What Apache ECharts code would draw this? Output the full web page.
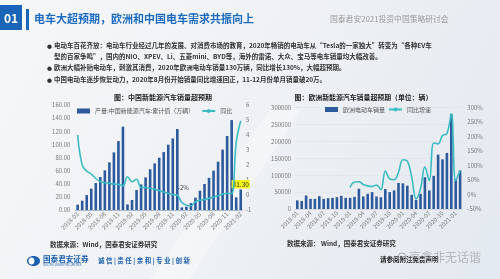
<!DOCTYPE html>
<html><head><meta charset="utf-8">
<script src="https://cdn.jsdelivr.net/npm/echarts@6/dist/echarts.min.js"></script>
<style>html,body{margin:0;padding:0;width:500px;height:279px;overflow:hidden;background:#eef1f5}#c{width:500px;height:279px}</style>
</head><body><div id="c"></div>
<script>
// ---------- data ----------
const cnCategories = ['2018-02','2018-03','2018-04','2018-05','2018-06','2018-07','2018-08','2018-09','2018-10','2018-11','2018-12',
 '2019-01','2019-02','2019-03','2019-04','2019-05','2019-06','2019-07','2019-08','2019-09','2019-10','2019-11','2019-12',
 '2020-01','2020-02','2020-03','2020-04','2020-05','2020-06','2020-07','2020-08','2020-09','2020-10','2020-11','2020-12',
 '2021-01','2021-02'];
const cnCumulative = [8.1,14.2,22.8,32.5,41.0,50.3,60.4,72.6,87.8,105.0,127.0,
 8.6,15.2,30.5,39.0,49.7,62.0,71.0,79.7,88.3,99.5,109.0,123.4,
 4.0,5.0,10.5,18.8,29.4,39.6,49.0,60.0,73.6,92.0,112.7,137.0,
 19.3,31.3];
const cnYoY = [4.0,2.0,1.6,1.4,1.1,0.9,0.82,0.78,0.73,0.7,0.62,
 1.22,0.88,1.05,0.5,0.5,0.45,0.38,0.3,0.2,0.1,0.03,-0.02,
 -0.5,-0.68,-0.72,-0.45,-0.35,-0.3,-0.22,-0.13,-0.05,0.05,0.12,0.1,
 3.5,4.95];
const cnLeftTicks = {min:0, max:160, step:20};
const cnRightTicks = {min:-1, max:6, step:1};

const euCategories = ['2018-01','2018-02','2018-03','2018-04','2018-05','2018-06','2018-07','2018-08','2018-09','2018-10','2018-11','2018-12',
 '2019-01','2019-02','2019-03','2019-04','2019-05','2019-06','2019-07','2019-08','2019-09','2019-10','2019-11','2019-12',
 '2020-01','2020-02','2020-03','2020-04','2020-05','2020-06','2020-07','2020-08','2020-09','2020-10','2020-11','2020-12',
 '2021-01','2021-02'];
const euSales = [25500,23500,40000,30000,30000,38000,30000,32000,33000,35000,39000,33000,
 33000,36000,60000,37000,45000,50000,37000,35000,59000,50000,55000,77000,
 76000,69000,42000,27000,45000,94000,55000,98000,161000,147000,166000,281000,
 89000,114000];
const euYoY = [null,null,null,null,null,null,null,null,null,null,null,null,
 25,43,44,35,30,28,33,17,81,54,51,77,
 120,115,60,-15,20,95,48,178,175,204,210,279,
 48,83];
const euLeftTicks = {min:0, max:300000, step:50000};
const euRightTicks = {min:-50, max:300, step:50};

const cnBarName = '产量:中国新能源汽车:累计值（万辆）';
const cnLineName = '同比';
const euBarName = '欧洲电动车销量';
const euLineName = '同比增速';

// ---------- chart ----------
const FONT = '"Noto Sans CJK SC", "Noto Sans", sans-serif';
const BAR = '#2c5a9c', LINE = '#3bbcc3', AX = '#7a7a7a';
const chart = echarts.init(document.getElementById('c'), null, {renderer:'canvas'});

function txt(x, y, text, size, color, opt) {
  opt = opt || {};
  return {type:'text', x:x, y:y, silent:true, z:opt.z||10,
    style:{text:text, fill:color, font:(opt.bold?'bold ':'')+size+'px '+FONT,
      align:opt.align||'left', verticalAlign:'middle', opacity: opt.opacity==null?1:opt.opacity}};
}

const lastIdx = cnCumulative.length - 1;
const cnBarData = cnCumulative.map((v,i)=> i===lastIdx ? {value:v, label:{show:true, position:'top', distance:1,
   formatter:(p)=>p.value.toFixed(2), fontSize:6.5, color:'#333', backgroundColor:'#f6f51c', padding:[1,1]}} : v);
const cnLineData = cnYoY.map((v,i)=> i===22 ? {value:v, symbol:'circle', symbolSize:1,
   label:{show:true, formatter:'-2%', position:'top', offset:[6,1], fontSize:6, color:'#444', fontFamily:FONT}} : v);

const axisLabelBase = {fontSize:6, color:AX, fontFamily:FONT};

chart.setOption({
  backgroundColor: {type:'linear', x:0, y:0, x2:1, y2:1, colorStops:[
    {offset:0, color:'#f6f7f9'}, {offset:0.55, color:'#edf0f4'}, {offset:1, color:'#e3e9f0'}]},
  animation:false,
  textStyle:{fontFamily:FONT},
  grid:[
    {left:75.4, top:105, width:167.6, height:105},
    {left:295.1, top:107.7, width:167.2, height:101.3}
  ],
  legend:[
    {left:77, top:108, itemWidth:13, itemHeight:5, itemGap:7, padding:0,
     textStyle:{fontSize:6, color:'#555', fontFamily:FONT},
     data:[{name:cnBarName, icon:'rect'}, {name:cnLineName}]},
    {left:325, top:106.5, itemWidth:13, itemHeight:5, itemGap:3, padding:0,
     textStyle:{fontSize:6, color:'#555', fontFamily:FONT},
     data:[{name:euBarName, icon:'rect'}, {name:euLineName}]}
  ],
  xAxis:[
    {type:'category', gridIndex:0, data:cnCategories, boundaryGap:true,
     axisTick:{show:false}, axisLine:{lineStyle:{color:'#9fb2c8', type:'dotted', width:1}},
     axisLabel:Object.assign({interval:2, rotate:45, margin:3}, axisLabelBase)},
    {type:'category', gridIndex:1, data:euCategories, boundaryGap:true,
     axisTick:{show:false}, axisLine:{lineStyle:{color:'#d4dae2', width:1}},
     axisLabel:Object.assign({interval:2, rotate:45, margin:3}, axisLabelBase)}
  ],
  yAxis:[
    {type:'value', gridIndex:0, min:cnLeftTicks.min, max:cnLeftTicks.max, interval:cnLeftTicks.step,
     splitLine:{show:false}, axisLine:{show:false}, axisTick:{show:false},
     axisLabel:Object.assign({margin:5, formatter:(v)=>v.toFixed(2)}, axisLabelBase)},
    {type:'value', gridIndex:0, position:'right', min:cnRightTicks.min, max:cnRightTicks.max, interval:cnRightTicks.step,
     splitLine:{show:false}, axisLine:{show:false}, axisTick:{show:false},
     axisLabel:Object.assign({margin:3}, axisLabelBase)},
    {type:'value', gridIndex:1, min:euLeftTicks.min, max:euLeftTicks.max, interval:euLeftTicks.step,
     splitLine:{lineStyle:{color:'#dfe4ea', width:0.8}}, axisLine:{show:false}, axisTick:{show:false},
     axisLabel:Object.assign({margin:4, formatter:(v)=>String(v)}, axisLabelBase)},
    {type:'value', gridIndex:1, position:'right', min:euRightTicks.min, max:euRightTicks.max, interval:euRightTicks.step,
     splitLine:{show:false}, axisLine:{show:false}, axisTick:{show:false},
     axisLabel:Object.assign({margin:5, formatter:'{value}%'}, axisLabelBase)}
  ],
  series:[
    {name:cnBarName, type:'bar', xAxisIndex:0, yAxisIndex:0, data:cnBarData, barWidth:2.6,
     itemStyle:{color:BAR}},
    {name:cnLineName, type:'line', xAxisIndex:0, yAxisIndex:1, data:cnLineData, smooth:0.4,
     symbol:'none', showSymbol:true, showAllSymbol:true, itemStyle:{color:LINE},
     lineStyle:{color:LINE, width:1.6}, z:5},
    {name:euBarName, type:'bar', xAxisIndex:1, yAxisIndex:2, data:euSales, barWidth:2.6,
     itemStyle:{color:BAR}},
    {name:euLineName, type:'line', xAxisIndex:1, yAxisIndex:3, data:euYoY, smooth:0.4,
     symbol:'none', itemStyle:{color:LINE}, lineStyle:{color:LINE, width:1.6}, z:5}
  ],
  graphic:[
    {type:'polygon', silent:true, z:-5, shape:{points:[[150,279],[270,110],[300,110],[190,279]]},
     style:{fill:'rgba(255,255,255,0.35)'}},
    {type:'rect', silent:true, shape:{x:0, y:5, width:22, height:25}, style:{fill:'#1b65b8'}},
    txt(11, 18, '01', 12, '#ffffff', {bold:true, align:'center'}),
    {type:'rect', silent:true, shape:{x:26, y:9, width:3, height:21}, style:{fill:'#1b65b8'}},
    txt(34, 19, '电车大超预期，欧洲和中国电车需求共振向上', 11, '#1d6bc0', {bold:true}),
    txt(330, 19.5, '国泰君安2021投资中国策略研讨会', 7.8, '#9a9a9a'),
    txt(47, 46, '●', 5, '#333'),
    txt(54, 46, '电动车百花齐放：电动车行业经过几年的发展、对消费市场的教育，2020年畅销的电动车从“Tesla的一家独大”转变为“各种EV车', 6.5, '#333', {bold:true}),
    txt(54, 57, '型的百家争鸣”，国内的NIO、XPEV、Li、五菱mini、BYD等，海外的雷诺、大众、宝马等电车销量均大幅改善。', 6.5, '#333', {bold:true}),
    txt(47, 68, '●', 5, '#333'),
    txt(54, 68, '欧洲大幅补贴电动车，刺激其消费，2020年欧洲电动车销量130万辆，同比增长130%，大幅超预期。', 6.5, '#333', {bold:true}),
    txt(47, 80, '●', 5, '#333'),
    txt(54, 80, '中国电动车逐步恢复动力，2020年8月份开始销量同比增速回正，11-12月份单月销量破20万。', 6.5, '#333', {bold:true}),
    txt(163, 97.5, '图：中国新能源汽车销量超预期', 7, '#222', {bold:true, align:'center'}),
    txt(363.5, 97, '图：欧洲新能源汽车销量超预期（单位：辆）', 6.9, '#222', {bold:true, align:'center'}),
    txt(50, 245, '数据来源：Wind，国泰君安证券研究', 6.5, '#333', {bold:true}),
    txt(287, 243.5, '数据来源： Wind，国泰君安证券研究', 6.5, '#333', {bold:true}),
    {type:'ellipse', silent:true, shape:{cx:33.5, cy:261, rx:6.5, ry:5}, style:{fill:'#1b5fae'}},
    {type:'ellipse', silent:true, shape:{cx:31.5, cy:261, rx:3, ry:3.6}, style:{fill:'#ffffff'}},
    txt(43, 259.5, '国泰君安证券', 7.6, '#1b5fae', {bold:true}),
    txt(43, 265, 'GUOTAI JUNAN SECURITIES', 3, '#1b5fae'),
    txt(98, 260.5, '诚 信 | 责 任 | 亲 和 | 专 业 | 创 新', 6.5, '#1b5fae', {bold:true}),
    txt(380, 260, '请参阅附注免责声明', 6.5, '#222', {bold:true}),
    {type:'circle', silent:true, z:12, shape:{cx:402, cy:257, r:4}, style:{fill:'none', stroke:'rgba(150,150,150,0.7)', lineWidth:1}},
    txt(409, 257, '高鑫非无话谐', 12, 'rgba(140,140,140,0.55)', {z:12})
  ]
});
</script></body></html>
